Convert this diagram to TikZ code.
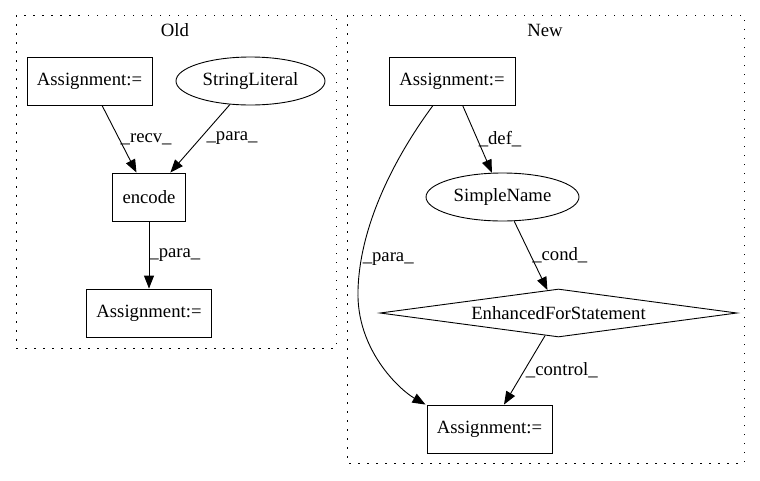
\documentclass[tikz,border=0pt]{standalone}
\usepackage{fontspec}
\setmainfont{Liberation Serif}
\usetikzlibrary{arrows.meta,shapes.geometric}

\begin{document}
\begin{tikzpicture}[x=1pt,y=-1pt]
\tikzstyle{every node}+=[inner sep=0pt, font=\fontsize{18.7}{22}\selectfont]
\tikzstyle{box}=[draw=black, line width=0.9pt, rectangle, minimum height=48pt]
\tikzstyle{oval}=[draw=black, line width=0.9pt, ellipse, minimum height=48pt]
\tikzstyle{cond}=[draw=black, line width=0.9pt, diamond, aspect=7.4, minimum width=357pt, minimum height=48pt]
\tikzstyle{edge}=[draw=black, line width=0.9pt, -{Triangle[length=13pt,width=10pt]}]
\tikzstyle{cluster}=[draw=black, line width=1pt, dash pattern=on 1.5pt off 7.5pt]
\useasboundingbox (0,0) rectangle (760,480);
\draw [cluster] (16,15) rectangle (336,348);
\node (oldtitle) at (175,30) {Old};
\draw [cluster] (347,15) rectangle (744,463);
\node (newtitle) at (545,30) {New};
\node [box, minimum width=125pt] (oldassign) at (89.5,81) {Assignment:=};
\node [oval, minimum width=149pt] (strlit) at (250.5,81) {StringLiteral};
\node [box, minimum width=73pt] (encode) at (149,197) {encode};
\node [box, minimum width=125pt] (oldresult) at (149,313) {Assignment:=};
\node [box, minimum width=126pt] (newassign) at (452,81) {Assignment:=};
\node [oval, minimum width=153pt] (simplename) at (502.5,197) {SimpleName};
\node [cond] (forstmt) at (558.5,313) {EnhancedForStatement};
\node [box, minimum width=125pt] (newresult) at (489.5,429) {Assignment:=};
\draw [edge] (oldassign) -- node[midway, right=1pt] {\_recv\_} (encode);
\draw [edge] (strlit) -- node[midway, right=6pt] {\_para\_} (encode);
\draw [edge] (encode) -- node[midway, right=0pt] {\_para\_} (oldresult);
\draw [edge] (newassign) -- node[midway, right=1pt] {\_def\_} (simplename);
\draw [edge] (simplename) -- node[midway, right=1pt] {\_cond\_} (forstmt);
\draw [edge] (forstmt) -- node[midway, right=1pt] {\_control\_} (newresult);
\draw [edge] ([xshift=-19pt]newassign.south) .. controls (400,150) and (360,220) .. (358,290)
  node[pos=0.85, right=1pt] {\_para\_}
  .. controls (356,350) and (400,390) .. ([xshift=-64pt]newresult.north);
\end{tikzpicture}
\end{document}
